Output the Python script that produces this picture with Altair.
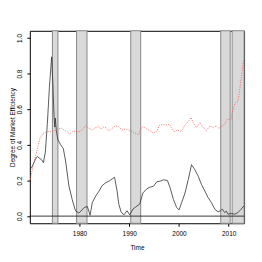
import altair as alt
import pandas as pd

# black solid series
black_years = [1970.0, 1970.34, 1971.14, 1971.54, 1971.94, 1972.34, 1972.73, 1973.13, 1973.53, 1973.93,
               1974.39, 1974.63, 1974.87, 1975.03, 1975.13, 1975.33, 1975.63, 1975.93, 1976.19, 1976.73,
               1977.19, 1977.86, 1978.52, 1979.18, 1979.86, 1980.52, 1980.92, 1981.58, 1982.12, 1982.57,
               1983.25, 1983.91, 1984.57, 1985.25, 1985.91, 1986.57, 1987.05, 1987.56, 1987.90, 1988.36,
               1988.90, 1989.56, 1990.10, 1990.76, 1991.56, 1992.10, 1992.75, 1993.55, 1994.23, 1994.89,
               1995.55, 1996.23, 1996.89, 1997.68, 1998.22, 1998.88, 1999.54, 2000.02, 2000.54, 2001.22,
               2001.88, 2002.53, 2003.21, 2003.87, 2004.53, 2005.21, 2005.87, 2006.53, 2007.21, 2007.86,
               2008.32, 2008.72, 2009.20, 2009.52, 2009.86, 2010.52, 2011.20, 2011.86, 2012.51, 2013.05]
black_vals = [0.265, 0.27, 0.32, 0.335, 0.325, 0.317, 0.30, 0.36, 0.52, 0.72,
              0.894, 0.75, 0.56, 0.50, 0.55, 0.48, 0.43, 0.415, 0.40, 0.38,
              0.31, 0.17, 0.094, 0.03, 0.017, 0.035, 0.048, 0.054, 0.005, 0.076,
              0.113, 0.14, 0.172, 0.187, 0.196, 0.209, 0.218, 0.14, 0.067, 0.024,
              0.007, 0.03, 0.007, 0.04, 0.057, 0.067, 0.13, 0.154, 0.163, 0.168,
              0.193, 0.196, 0.204, 0.20, 0.159, 0.094, 0.048, 0.035, 0.076, 0.13,
              0.206, 0.289, 0.26, 0.224, 0.178, 0.141, 0.104, 0.076, 0.039, 0.024,
              0.03, 0.039, 0.02, 0.028, 0.011, 0.015, 0.011, 0.02, 0.039, 0.057]

# red dotted series
red_years = [1970.0, 1970.88, 1971.54, 1972.08, 1972.73, 1973.39, 1974.19, 1974.87, 1975.53, 1976.19,
             1976.87, 1977.52, 1978.06, 1978.72, 1979.38, 1980.06, 1980.72, 1981.18, 1981.86, 1982.51,
             1983.17, 1983.85, 1984.31, 1984.97, 1985.45, 1985.91, 1986.57, 1987.25, 1987.90, 1988.56,
             1989.24, 1989.90, 1990.56, 1991.24, 1991.90, 1992.36, 1992.89, 1993.55, 1994.23, 1994.89,
             1995.55, 1996.09, 1996.75, 1997.43, 1998.08, 1998.54, 1999.02, 1999.68, 2000.34, 2000.88,
             2001.22, 2001.88, 2002.42, 2002.87, 2003.53, 2004.21, 2004.87, 2005.53, 2006.21, 2006.87,
             2007.52, 2008.00, 2008.52, 2009.20, 2009.72, 2010.40, 2010.86, 2011.32, 2011.86, 2012.20,
             2012.55, 2012.89, 2013.09]
red_vals = [0.196, 0.307, 0.381, 0.44, 0.465, 0.474, 0.474, 0.478, 0.483, 0.496,
            0.483, 0.474, 0.459, 0.478, 0.474, 0.474, 0.489, 0.507, 0.493, 0.483,
            0.496, 0.502, 0.489, 0.502, 0.493, 0.478, 0.493, 0.507, 0.502, 0.483,
            0.489, 0.483, 0.474, 0.465, 0.456, 0.493, 0.502, 0.489, 0.478, 0.465,
            0.478, 0.511, 0.515, 0.511, 0.515, 0.493, 0.474, 0.483, 0.474, 0.493,
            0.511, 0.53, 0.554, 0.524, 0.498, 0.524, 0.498, 0.48, 0.506, 0.498,
            0.506, 0.493, 0.502, 0.517, 0.543, 0.543, 0.594, 0.635, 0.646, 0.706,
            0.78, 0.854, 0.881]

# shaded periods
band_start = [1974.55, 1979.4, 1990.3, 2008.4, 2010.7]
band_end = [1975.65, 1981.5, 1992.3, 2010.3, 2013.1]

x_ticks = [1980, 1990, 2000, 2010]
y_ticks = [0.0, 0.2, 0.4, 0.6, 0.8, 1.0]

W, H = 216, 194
FONT = "Liberation Sans"

black_df = pd.DataFrame({"year": black_years, "value": black_vals})
red_df = pd.DataFrame({"year": red_years, "value": red_vals})
band_df = pd.DataFrame({"start": band_start, "end": band_end})
zero_df = pd.DataFrame({"value": [0.0]})

xs = alt.Scale(domain=[1970, 2013.1], nice=False, zero=False)
ys = alt.Scale(domain=[-0.04, 1.04], nice=False, zero=False)

x_axis = alt.Axis(values=x_ticks, title="Time", format="d", labelPadding=4, titlePadding=8)
y_axis = alt.Axis(values=y_ticks, title="Degree of Market Efficiency", format=".1f",
                  labelAngle=-90, labelAlign="center", labelBaseline="bottom",
                  labelPadding=4, titlePadding=1)

bands = alt.Chart(band_df).mark_rect(fill="#d9d9d9", stroke="#909090", strokeWidth=1.1).encode(
    x=alt.X("start:Q", scale=xs, axis=x_axis),
    x2="end:Q",
    y=alt.value(0),
    y2=alt.value(H),
)

zero = alt.Chart(zero_df).mark_rule(color="#222222", strokeWidth=0.9).encode(
    y=alt.Y("value:Q", scale=ys, axis=y_axis)
)

black = alt.Chart(black_df).mark_line(color="#333333", strokeWidth=0.8, clip=True).encode(
    x=alt.X("year:Q", scale=xs, axis=x_axis),
    y=alt.Y("value:Q", scale=ys, axis=y_axis),
)

red = alt.Chart(red_df).mark_line(color="#ff5a5a", strokeWidth=0.9, strokeDash=[1, 1.4], clip=True).encode(
    x=alt.X("year:Q", scale=xs, axis=x_axis),
    y=alt.Y("value:Q", scale=ys, axis=y_axis),
)

chart = alt.layer(bands, zero, black, red).properties(
    width=W, height=H,
    autosize=alt.AutoSizeParams(type="none"),
    padding={"left": 22, "top": 22, "right": 10, "bottom": 30},
    background="white",
).configure_view(
    stroke="black", strokeWidth=1
).configure_axis(
    grid=False, domain=False, tickSize=3, tickColor="black",
    labelFontSize=6.5, titleFontSize=6.5, labelFont=FONT, titleFont=FONT,
    labelColor="black", titleColor="black", titleFontWeight="normal",
    labelFlush=False, labelOverlap=False, labelBound=False
)

chart.save("out.html", embed_options={"renderer": "svg", "actions": False})
